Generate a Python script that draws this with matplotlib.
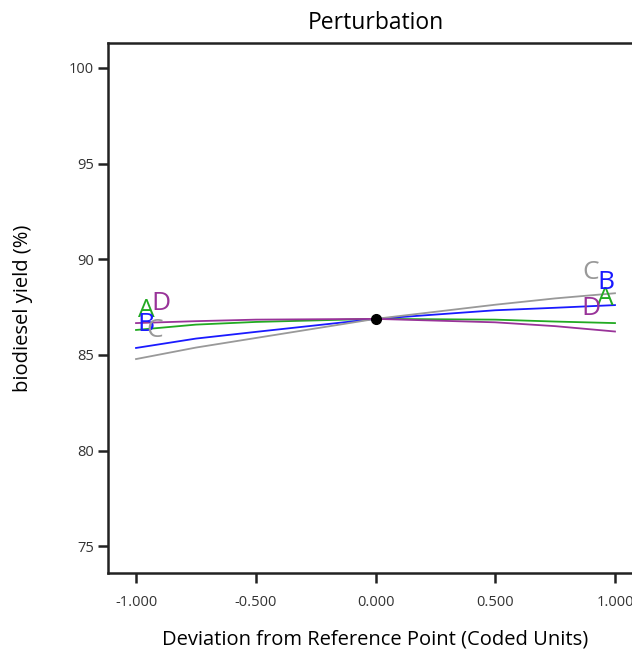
import matplotlib.pyplot as plt

plt.rcParams['font.family'] = ['Open Sans', 'DejaVu Sans']

# coded deviation from reference point
x = [-1.0, -0.75, -0.5, 0.0, 0.5, 0.75, 1.0]

# biodiesel yield (%)
yield_a = [86.30, 86.58, 86.72, 86.88, 86.84, 86.74, 86.66]
yield_b = [85.36, 85.85, 86.20, 86.88, 87.33, 87.46, 87.60]
yield_c = [84.78, 85.38, 85.88, 86.88, 87.62, 87.95, 88.22]
yield_d = [86.66, 86.76, 86.84, 86.88, 86.70, 86.50, 86.22]

ref_x, ref_y = 0.0, 86.88

factors = ['A', 'B', 'C', 'D']
colors = ['#22aa22', '#1a1aff', '#999999', '#993399']
series = [yield_a, yield_b, yield_c, yield_d]

# label spots near each end of the traces
left_labels = {'A': (-0.958, 87.34), 'B': (-0.958, 86.56), 'C': (-0.92, 86.25), 'D': (-0.895, 87.7)}
right_labels = {'A': (0.958, 87.92), 'B': (0.962, 88.76), 'C': (0.90, 89.28), 'D': (0.90, 87.4)}

fig = plt.figure(figsize=(6.32, 6.5), dpi=100)
ax = fig.add_axes([0.1709, 0.1185, 0.8465, 0.8154])

for name, col, ys in zip(factors, colors, series):
    ax.plot(x, ys, color=col, lw=1.3)
    lx, ly = left_labels[name]
    rx, ry = right_labels[name]
    ax.text(lx, ly, name, color=col, fontsize=19, ha='center', va='center')
    ax.text(rx, ry, name, color=col, fontsize=19, ha='center', va='center')

ax.plot(ref_x, ref_y, 'o', color='black', ms=7, zorder=5)

ax.set_xlim(-1.117, 1.117)
ax.set_ylim(73.6, 101.3)
ax.set_xticks([-1.0, -0.5, 0.0, 0.5, 1.0])
ax.set_xticklabels(['-1.000', '-0.500', '0.000', '0.500', '1.000'])
ax.set_yticks([75, 80, 85, 90, 95, 100])

for s in ax.spines.values():
    s.set_linewidth(1.8)
    s.set_color('#222222')
ax.tick_params(direction='out', length=7, width=1.8, color='#222222', labelsize=10.5, labelcolor='#333333')
ax.tick_params(axis='x', pad=9)
ax.tick_params(axis='y', pad=3)

ax.set_title('Perturbation', fontsize=16.5, pad=10)
ax.set_xlabel('Deviation from Reference Point (Coded Units)', fontsize=14.5, labelpad=14)
ax.set_ylabel('biodiesel yield (%)', fontsize=14.5, labelpad=26)

fig.savefig('out.png', dpi=100)
